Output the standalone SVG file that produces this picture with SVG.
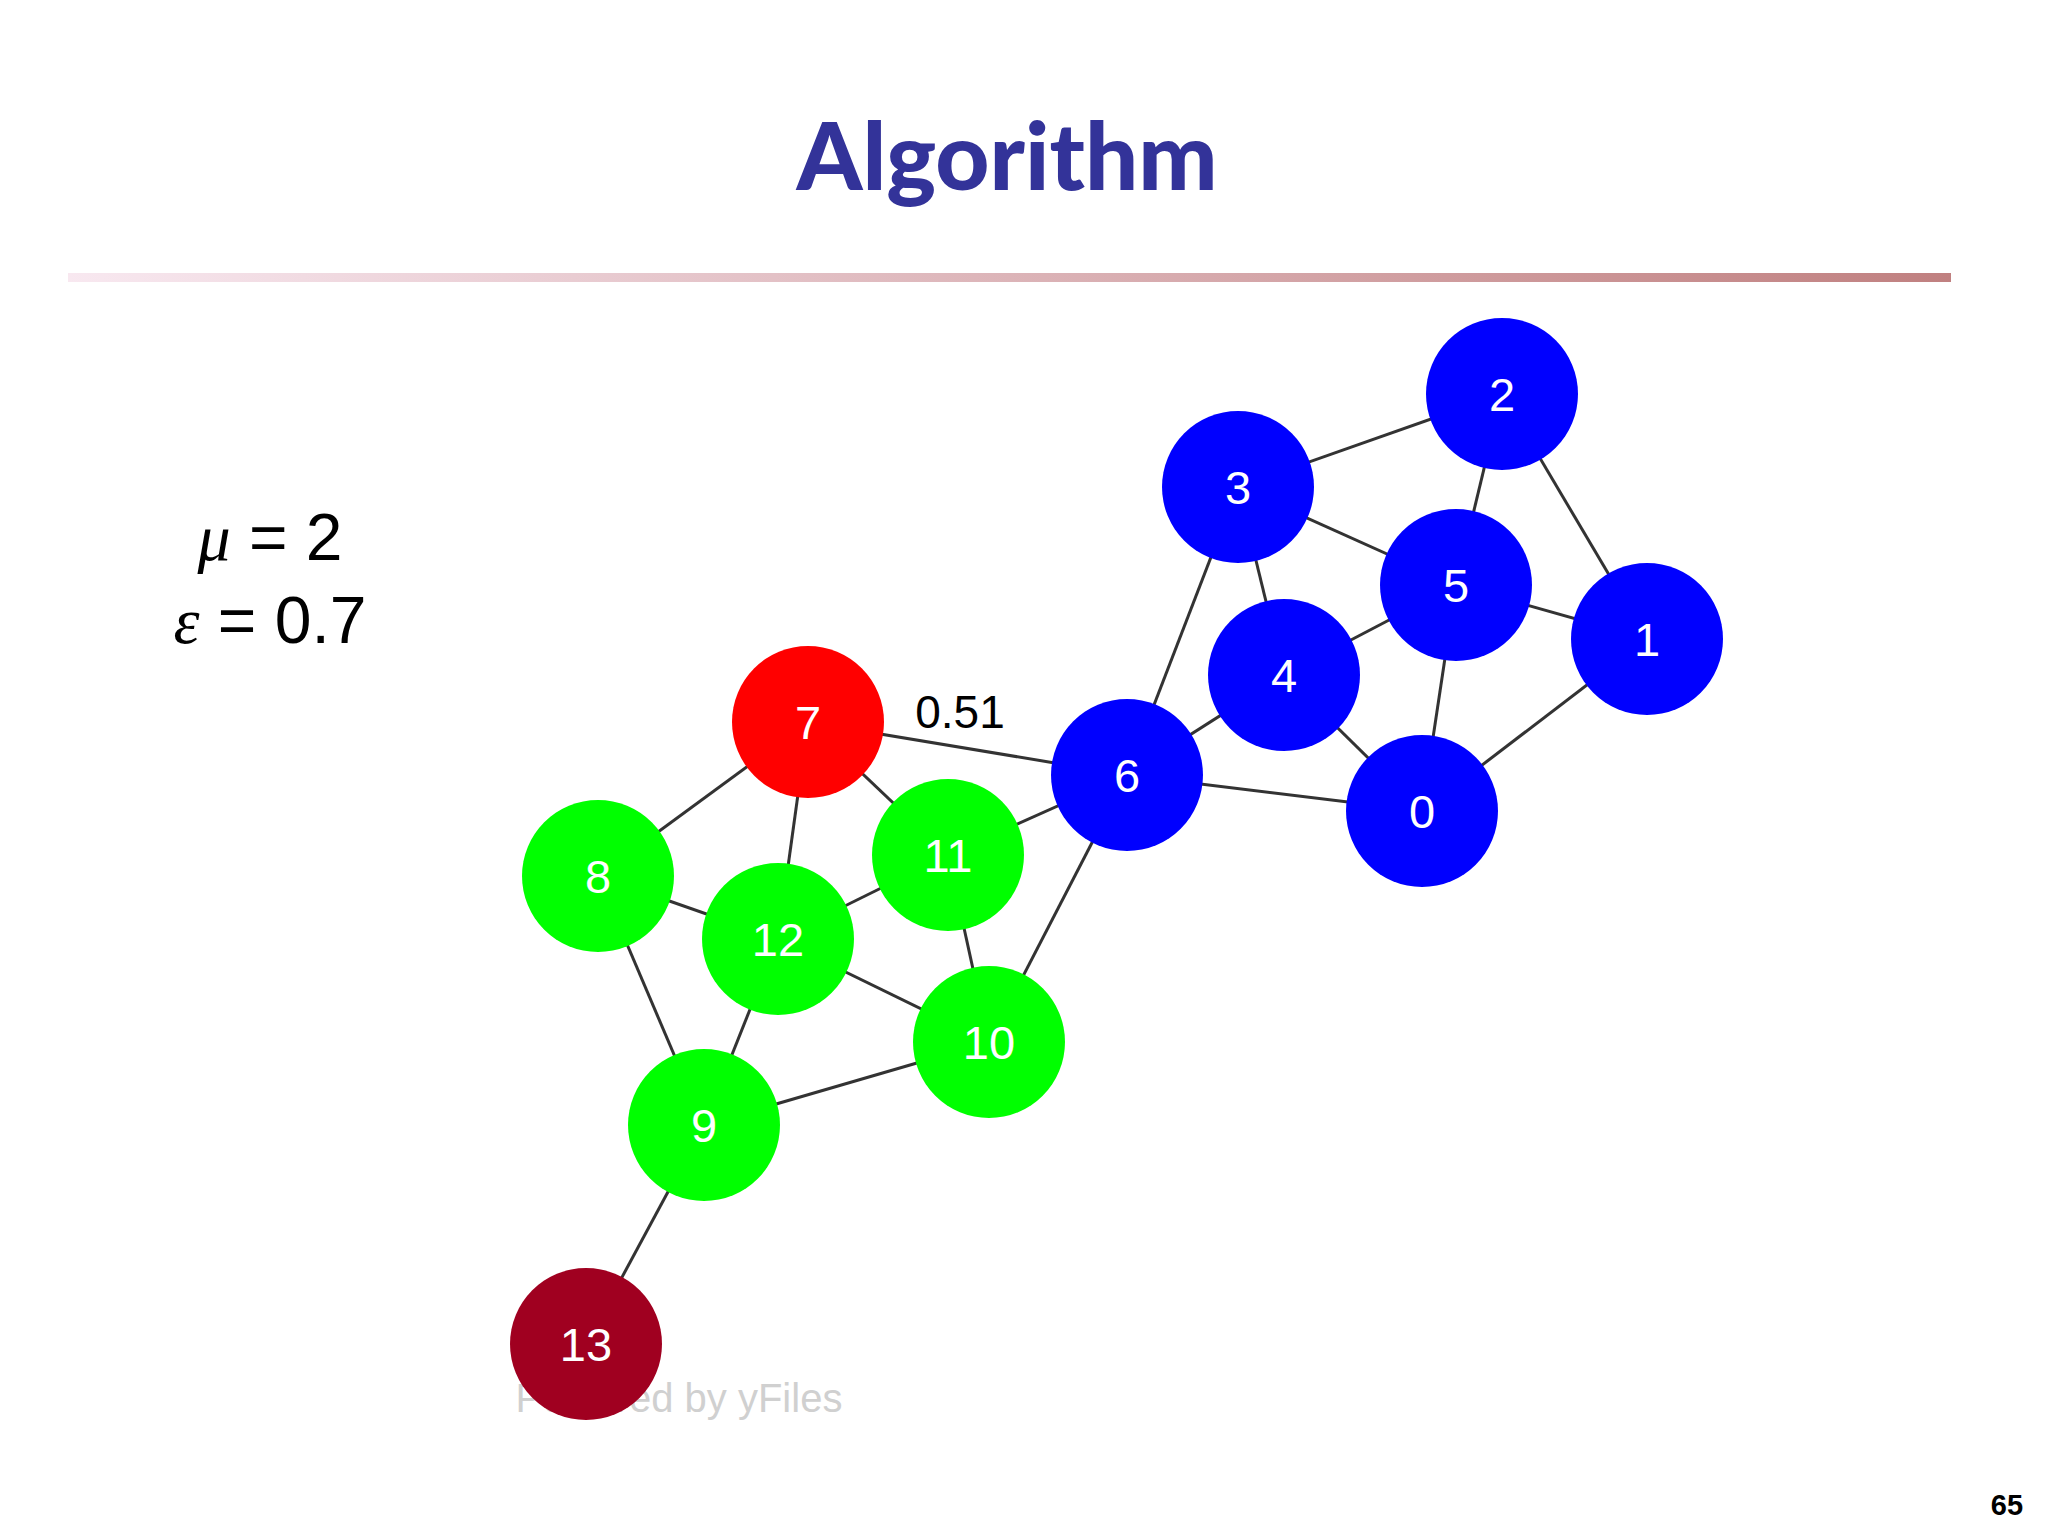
<svg xmlns="http://www.w3.org/2000/svg" width="2048" height="1536" viewBox="0 0 2048 1536">
<defs>
<linearGradient id="bar" x1="0" x2="1" y1="0" y2="0">
<stop offset="0" stop-color="#f8e8f0"/><stop offset="1" stop-color="#c08080"/>
</linearGradient>
<style>
.e{stroke:#333;stroke-width:3;fill:none}
.n text{font-family:"Liberation Sans",Arial,sans-serif;font-size:47px;fill:#fff;text-anchor:middle;dominant-baseline:central}
.b{fill:#0000ff}.g{fill:#00ff00}.r{fill:#ff0000}.d{fill:#a00020}
</style>
</defs>
<rect width="2048" height="1536" fill="#fff"/>
<text x="1007" y="190" font-family="Lato,'Open Sans',sans-serif" font-weight="900" font-size="94" fill="#333399" text-anchor="middle">Algorithm</text>
<rect x="68" y="273" width="1883" height="9" fill="url(#bar)"/>
<text x="270" y="560" font-family="'Liberation Sans',Arial,sans-serif" font-size="66" text-anchor="middle"><tspan font-family="'Liberation Serif',serif" font-style="italic">μ</tspan> = 2</text>
<text x="270" y="643" font-family="'Liberation Sans',Arial,sans-serif" font-size="66" text-anchor="middle"><tspan font-family="'Liberation Serif',serif" font-style="italic">ε</tspan> = 0.7</text>
<text x="679" y="1412" font-family="'Liberation Sans',Arial,sans-serif" font-size="40" fill="#d0d0d0" text-anchor="middle">Powered by yFiles</text>
<g id="edges">
<line class="e" x1="1238" y1="487" x2="1502" y2="394"/>
<line class="e" x1="1502" y1="394" x2="1456" y2="585"/>
<line class="e" x1="1502" y1="394" x2="1647" y2="639"/>
<line class="e" x1="1238" y1="487" x2="1456" y2="585"/>
<line class="e" x1="1238" y1="487" x2="1284" y2="675"/>
<line class="e" x1="1238" y1="487" x2="1127" y2="775"/>
<line class="e" x1="1456" y1="585" x2="1284" y2="675"/>
<line class="e" x1="1456" y1="585" x2="1647" y2="639"/>
<line class="e" x1="1456" y1="585" x2="1422" y2="811"/>
<line class="e" x1="1647" y1="639" x2="1422" y2="811"/>
<line class="e" x1="1284" y1="675" x2="1127" y2="775"/>
<line class="e" x1="1284" y1="675" x2="1422" y2="811"/>
<line class="e" x1="1127" y1="775" x2="1422" y2="811"/>
<line class="e" x1="808" y1="722" x2="1127" y2="775"/>
<line class="e" x1="1127" y1="775" x2="948" y2="855"/>
<line class="e" x1="1127" y1="775" x2="989" y2="1042"/>
<line class="e" x1="808" y1="722" x2="598" y2="876"/>
<line class="e" x1="808" y1="722" x2="778" y2="939"/>
<line class="e" x1="808" y1="722" x2="948" y2="855"/>
<line class="e" x1="598" y1="876" x2="778" y2="939"/>
<line class="e" x1="598" y1="876" x2="704" y2="1125"/>
<line class="e" x1="778" y1="939" x2="948" y2="855"/>
<line class="e" x1="778" y1="939" x2="989" y2="1042"/>
<line class="e" x1="778" y1="939" x2="704" y2="1125"/>
<line class="e" x1="948" y1="855" x2="989" y2="1042"/>
<line class="e" x1="989" y1="1042" x2="704" y2="1125"/>
<line class="e" x1="704" y1="1125" x2="586" y2="1344"/>
<text x="960" y="728" font-family="'Liberation Sans',Arial,sans-serif" font-size="46" text-anchor="middle">0.51</text>
</g>
<g id="n2" class="n"><circle class="b" cx="1502" cy="394" r="76"/><text x="1502" y="394">2</text></g>
<g id="n3" class="n"><circle class="b" cx="1238" cy="487" r="76"/><text x="1238" y="487">3</text></g>
<g id="n5" class="n"><circle class="b" cx="1456" cy="585" r="76"/><text x="1456" y="585">5</text></g>
<g id="n1" class="n"><circle class="b" cx="1647" cy="639" r="76"/><text x="1647" y="639">1</text></g>
<g id="n4" class="n"><circle class="b" cx="1284" cy="675" r="76"/><text x="1284" y="675">4</text></g>
<g id="n6" class="n"><circle class="b" cx="1127" cy="775" r="76"/><text x="1127" y="775">6</text></g>
<g id="n0" class="n"><circle class="b" cx="1422" cy="811" r="76"/><text x="1422" y="811">0</text></g>
<g id="n7" class="n"><circle class="r" cx="808" cy="722" r="76"/><text x="808" y="722">7</text></g>
<g id="n11" class="n"><circle class="g" cx="948" cy="855" r="76"/><text x="948" y="855">11</text></g>
<g id="n8" class="n"><circle class="g" cx="598" cy="876" r="76"/><text x="598" y="876">8</text></g>
<g id="n12" class="n"><circle class="g" cx="778" cy="939" r="76"/><text x="778" y="939">12</text></g>
<g id="n10" class="n"><circle class="g" cx="989" cy="1042" r="76"/><text x="989" y="1042">10</text></g>
<g id="n9" class="n"><circle class="g" cx="704" cy="1125" r="76"/><text x="704" y="1125">9</text></g>
<g id="n13" class="n"><circle class="d" cx="586" cy="1344" r="76"/><text x="586" y="1344">13</text></g>
<text x="2007" y="1515" font-family="'Liberation Sans',Arial,sans-serif" font-weight="bold" font-size="29" text-anchor="middle">65</text>
</svg>
